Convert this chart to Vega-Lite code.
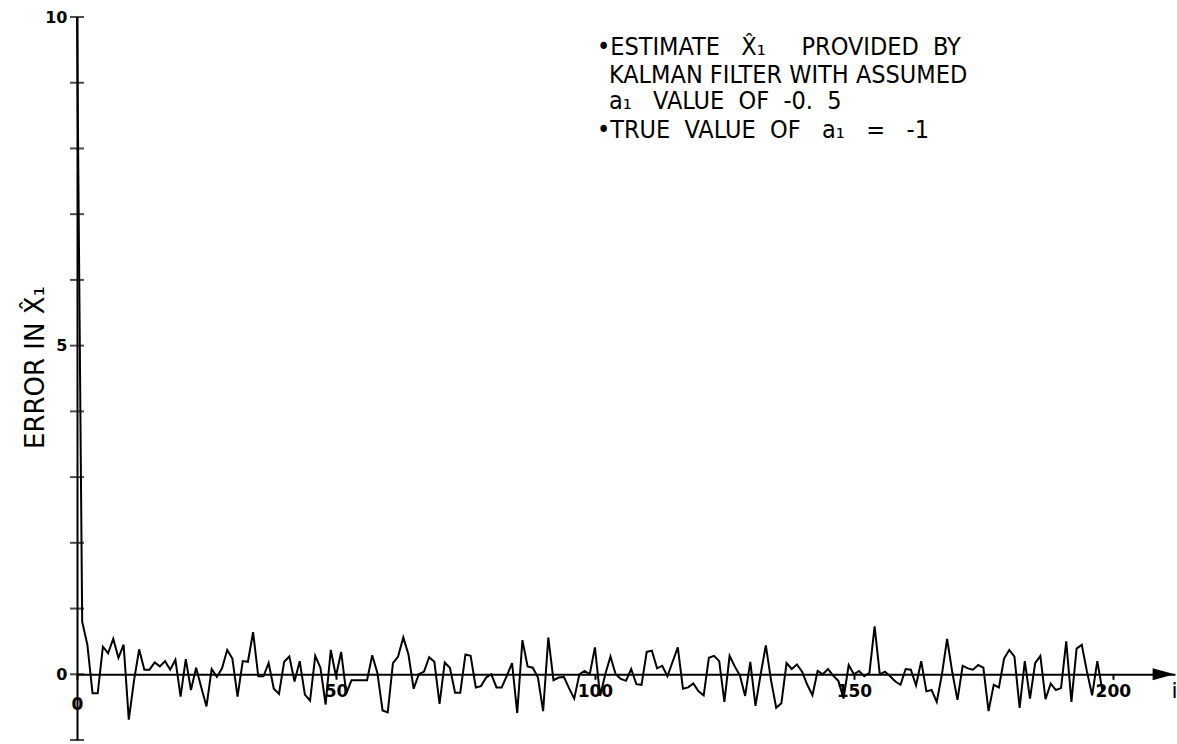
{
  "$schema": "https://vega.github.io/schema/vega-lite/v6.json",
  "width": 1098,
  "height": 723,
  "autosize": {"type": "none"},
  "padding": {"left": 77, "top": 17, "right": 2, "bottom": 4},
  "background": "white",
  "config": {
    "view": {"stroke": null},
    "axis": {"grid": false, "domainColor": "black", "tickColor": "black", "labelColor": "black", "titleColor": "black"}
  },
  "datasets": {
    "series": [
      {"i":0,"err":10},{"i":1,"err":0.8},{"i":2,"err":0.45},{"i":3,"err":-0.29},{"i":4,"err":-0.29},
      {"i":5,"err":0.42},{"i":6,"err":0.32},{"i":7,"err":0.54},{"i":8,"err":0.25},{"i":9,"err":0.45},
      {"i":10,"err":-0.69},{"i":11,"err":-0.1},{"i":12,"err":0.38},{"i":13,"err":0.07},{"i":14,"err":0.07},
      {"i":15,"err":0.18},{"i":16,"err":0.12},{"i":17,"err":0.2},{"i":18,"err":0.07},{"i":19,"err":0.22},
      {"i":20,"err":-0.34},{"i":21,"err":0.23},{"i":22,"err":-0.24},{"i":23,"err":0.1},{"i":24,"err":-0.2},
      {"i":25,"err":-0.49},{"i":26,"err":0.08},{"i":27,"err":-0.04},{"i":28,"err":0.09},{"i":29,"err":0.37},
      {"i":30,"err":0.24},{"i":31,"err":-0.34},{"i":32,"err":0.2},{"i":33,"err":0.19},{"i":34,"err":0.64},
      {"i":35,"err":-0.03},{"i":36,"err":-0.03},{"i":37,"err":0.17},{"i":38,"err":-0.22},{"i":39,"err":-0.3},
      {"i":40,"err":0.19},{"i":41,"err":0.27},{"i":42,"err":-0.11},{"i":43,"err":0.2},{"i":44,"err":-0.31},
      {"i":45,"err":-0.4},{"i":46,"err":0.28},{"i":47,"err":0.1},{"i":48,"err":-0.46},{"i":49,"err":0.37},
      {"i":50,"err":-0.03},{"i":51,"err":0.34},{"i":52,"err":-0.29},{"i":53,"err":-0.09},{"i":54,"err":-0.09},
      {"i":55,"err":-0.09},{"i":56,"err":-0.09},{"i":57,"err":0.29},{"i":58,"err":0.02},{"i":59,"err":-0.55},
      {"i":60,"err":-0.58},{"i":61,"err":0.17},{"i":62,"err":0.27},{"i":63,"err":0.56},{"i":64,"err":0.3},
      {"i":65,"err":-0.22},{"i":66,"err":0.0},{"i":67,"err":0.04},{"i":68,"err":0.26},{"i":69,"err":0.19},
      {"i":70,"err":-0.45},{"i":71,"err":0.18},{"i":72,"err":0.1},{"i":73,"err":-0.28},{"i":74,"err":-0.28},
      {"i":75,"err":0.3},{"i":76,"err":0.28},{"i":77,"err":-0.2},{"i":78,"err":-0.18},{"i":79,"err":-0.05},
      {"i":80,"err":0.0},{"i":81,"err":-0.2},{"i":82,"err":-0.2},{"i":83,"err":-0.02},{"i":84,"err":0.17},
      {"i":85,"err":-0.59},{"i":86,"err":0.52},{"i":87,"err":0.12},{"i":88,"err":0.1},{"i":89,"err":-0.05},
      {"i":90,"err":-0.56},{"i":91,"err":0.56},{"i":92,"err":-0.09},{"i":93,"err":-0.05},{"i":94,"err":-0.04},
      {"i":95,"err":-0.21},{"i":96,"err":-0.37},{"i":97,"err":0.0},{"i":98,"err":0.05},{"i":99,"err":0.0},
      {"i":100,"err":0.41},{"i":101,"err":-0.33},{"i":102,"err":0.0},{"i":103,"err":0.27},{"i":104,"err":0.0},
      {"i":105,"err":-0.07},{"i":106,"err":-0.1},{"i":107,"err":0.08},{"i":108,"err":-0.15},{"i":109,"err":-0.16},
      {"i":110,"err":0.34},{"i":111,"err":0.36},{"i":112,"err":0.09},{"i":113,"err":0.13},{"i":114,"err":-0.03},
      {"i":115,"err":0.19},{"i":116,"err":0.41},{"i":117,"err":-0.22},{"i":118,"err":-0.2},{"i":119,"err":-0.14},
      {"i":120,"err":-0.26},{"i":121,"err":-0.32},{"i":122,"err":0.25},{"i":123,"err":0.28},{"i":124,"err":0.2},
      {"i":125,"err":-0.42},{"i":126,"err":0.28},{"i":127,"err":0.12},{"i":128,"err":-0.02},{"i":129,"err":-0.33},
      {"i":130,"err":0.19},{"i":131,"err":-0.48},{"i":132,"err":0.0},{"i":133,"err":0.44},{"i":134,"err":-0.09},
      {"i":135,"err":-0.51},{"i":136,"err":-0.44},{"i":137,"err":0.17},{"i":138,"err":0.08},{"i":139,"err":0.15},
      {"i":140,"err":0.04},{"i":141,"err":-0.16},{"i":142,"err":-0.32},{"i":143,"err":0.05},{"i":144,"err":0.0},
      {"i":145,"err":0.08},{"i":146,"err":-0.02},{"i":147,"err":-0.1},{"i":148,"err":-0.37},{"i":149,"err":0.14},
      {"i":150,"err":0.0},{"i":151,"err":0.05},{"i":152,"err":-0.03},{"i":153,"err":0.02},{"i":154,"err":0.73},
      {"i":155,"err":0.0},{"i":156,"err":0.04},{"i":157,"err":-0.03},{"i":158,"err":-0.11},{"i":159,"err":-0.16},
      {"i":160,"err":0.08},{"i":161,"err":0.07},{"i":162,"err":-0.17},{"i":163,"err":0.2},{"i":164,"err":-0.26},
      {"i":165,"err":-0.24},{"i":166,"err":-0.42},{"i":167,"err":0.0},{"i":168,"err":0.54},{"i":169,"err":0.03},
      {"i":170,"err":-0.39},{"i":171,"err":0.13},{"i":172,"err":0.09},{"i":173,"err":0.07},{"i":174,"err":0.14},
      {"i":175,"err":0.1},{"i":176,"err":-0.56},{"i":177,"err":-0.16},{"i":178,"err":-0.2},{"i":179,"err":0.24},
      {"i":180,"err":0.37},{"i":181,"err":0.27},{"i":182,"err":-0.51},{"i":183,"err":0.2},{"i":184,"err":-0.37},
      {"i":185,"err":0.17},{"i":186,"err":0.28},{"i":187,"err":-0.38},{"i":188,"err":-0.14},{"i":189,"err":-0.24},
      {"i":190,"err":-0.21},{"i":191,"err":0.5},{"i":192,"err":-0.42},{"i":193,"err":0.39},{"i":194,"err":0.45},
      {"i":195,"err":0.04},{"i":196,"err":-0.32},{"i":197,"err":0.2},{"i":198,"err":-0.26}
    ],
    "yticks": [
      {"v":-1},{"v":0},{"v":1},{"v":2},{"v":3},{"v":4},{"v":5},{"v":6},{"v":7},{"v":8},{"v":9},{"v":10}
    ],
    "arrowhead": [{"i": 209.8, "err": 0}],
    "notes": [
      {"i": 100.4, "err": 9.54, "text": "•ESTIMATE \u00a0\u00a0X̂₁ \u00a0\u00a0\u00a0\u00a0PROVIDED \u00a0BY"},
      {"i": 102.7, "err": 9.12, "text": "KALMAN FILTER WITH ASSUMED"},
      {"i": 102.7, "err": 8.72, "text": "a₁ \u00a0\u00a0VALUE \u00a0OF \u00a0-0. \u00a05"},
      {"i": 100.4, "err": 8.28, "text": "•TRUE \u00a0VALUE \u00a0OF \u00a0\u00a0a₁ \u00a0\u00a0= \u00a0\u00a0-1"}
    ]
  },
  "layer": [
    {
      "data": {"name": "series"},
      "mark": {"type": "line", "color": "black", "strokeWidth": 2, "clip": false},
      "encoding": {
        "x": {
          "field": "i", "type": "quantitative",
          "scale": {"domain": [0, 212], "nice": false, "zero": false},
          "axis": {
            "title": "i",
            "values": [0, 50, 100, 150, 200],
            "format": "d",
            "offset": -65.7,
            "domainWidth": 2,
            "tickSize": 5,
            "tickWidth": 2,
            "labelFlush": false,
            "labelOverlap": false,
            "labelFont": "DejaVu Sans",
            "labelFontWeight": "bold",
            "labelFontSize": 17,
            "labelPadding": {"condition": {"test": "datum.value === 0", "value": 17}, "value": 4},
            "titleFont": "DejaVu Sans",
            "titleFontWeight": "normal",
            "titleFontSize": 22,
            "titleAnchor": "end",
            "titleAlign": "right",
            "titleBaseline": "top",
            "titleX": 1100,
            "titleY": 6
          }
        },
        "y": {
          "field": "err", "type": "quantitative",
          "scale": {"domain": [-1, 10], "nice": false, "zero": false},
          "axis": {
            "title": "ERROR IN X̂₁",
            "values": [0, 5, 10],
            "format": "d",
            "domainWidth": 2,
            "tickSize": 0,
            "labelPadding": 10,
            "labelFlush": false,
            "labelFont": "DejaVu Sans",
            "labelFontWeight": "bold",
            "labelFontSize": 16,
            "titleFont": "DejaVu Sans",
            "titleFontWeight": "normal",
            "titleFontSize": 26,
            "titleAngle": -90,
            "titleAlign": "center",
            "titleBaseline": "middle",
            "titleX": -42,
            "titleY": 350
          }
        }
      }
    },
    {
      "data": {"name": "yticks"},
      "mark": {"type": "tick", "orient": "horizontal", "color": "black", "size": 14, "thickness": 2, "clip": false},
      "encoding": {
        "y": {"field": "v", "type": "quantitative"},
        "x": {"datum": 0, "type": "quantitative"}
      }
    },
    {
      "data": {"name": "arrowhead"},
      "mark": {"type": "point", "shape": "M-1,-0.55L1,0L-1,0.55Z", "filled": true, "color": "black", "opacity": 1, "size": 484, "clip": false},
      "encoding": {
        "x": {"field": "i", "type": "quantitative"},
        "y": {"field": "err", "type": "quantitative"}
      }
    },
    {
      "data": {"name": "notes"},
      "mark": {"type": "text", "align": "left", "baseline": "middle", "font": "Liberation Sans Narrow, DejaVu Sans Condensed, Roboto, sans-serif", "fontSize": 25, "color": "black"},
      "encoding": {
        "x": {"field": "i", "type": "quantitative"},
        "y": {"field": "err", "type": "quantitative"},
        "text": {"field": "text"}
      }
    }
  ]
}
